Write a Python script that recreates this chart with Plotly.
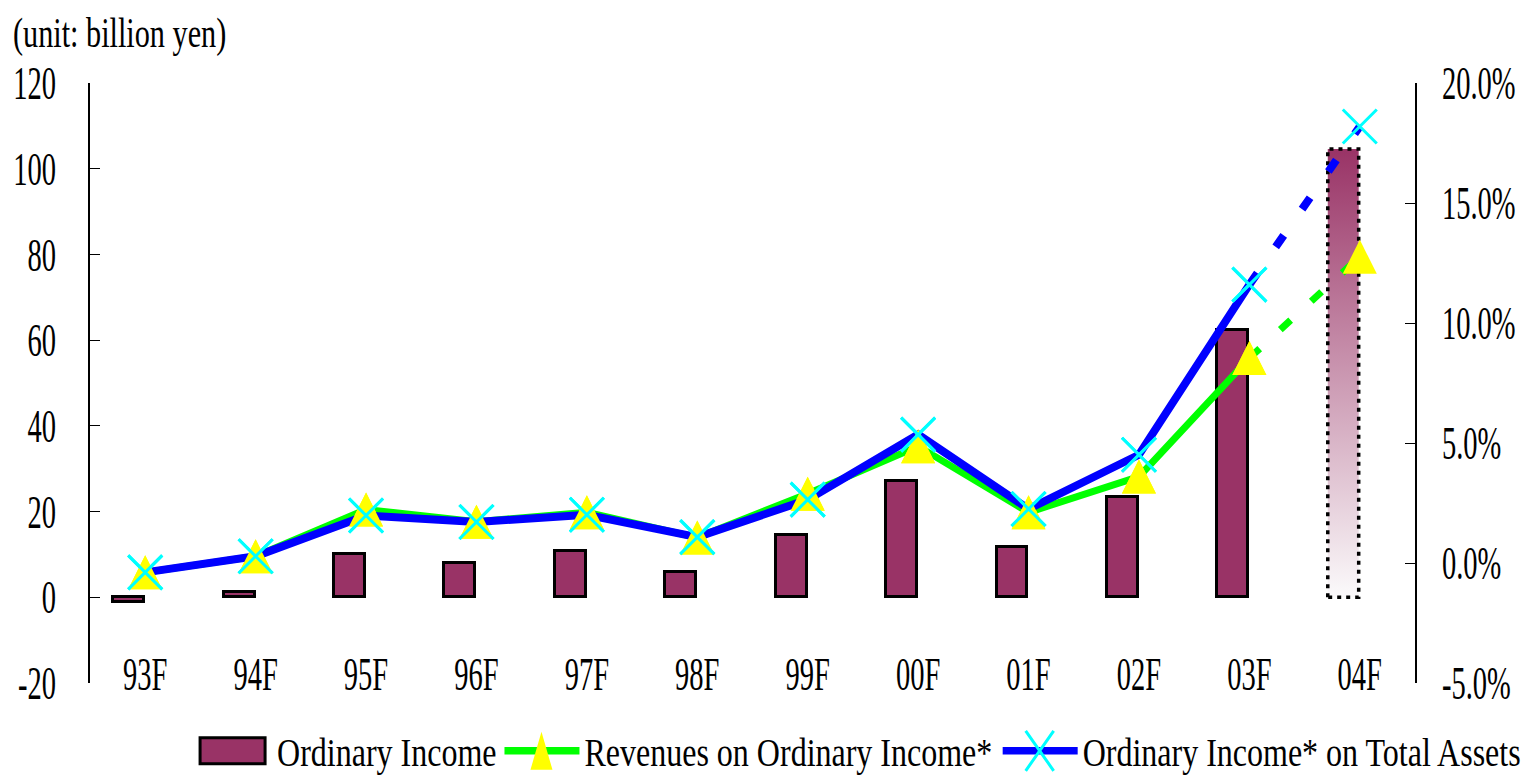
import plotly.graph_objects as go

# Fiscal years; 04F is a forecast
categories = ["93F", "94F", "95F", "96F", "97F", "98F", "99F", "00F", "01F", "02F", "03F", "04F"]
# Ordinary income (billion yen)
ordinary_income = [-1.1, 1.2, 10.1, 7.9, 10.9, 5.8, 14.6, 27.1, 11.7, 23.3, 62.4, 104.6]
# Ordinary income* over revenues (%)
revenue_margin = [-0.39, 0.28, 2.23, 1.72, 2.11, 1.06, 2.89, 4.86, 2.11, 3.60, 8.54, 12.76]
# Ordinary income* over total assets (%)
return_on_assets = [-0.39, 0.28, 1.98, 1.71, 2.01, 1.08, 2.64, 5.35, 2.25, 4.51, 11.60, 18.19]

left_tick_vals = [-20, 0, 20, 40, 60, 80, 100, 120]
left_tick_text = ["-20", "0", "20", "40", "60", "80", "100", "120"]
right_tick_vals = [-5, 0, 5, 10, 15, 20]
right_tick_text = ["-5.0%", "0.0%", "5.0%", "10.0%", "15.0%", "20.0%"]

FONT = "Liberation Serif"
idx = list(range(len(categories)))
last_actual = len(categories) - 2   # 03F
fc = len(categories) - 1            # 04F (forecast)

BAR_OFF, BAR_W = -0.29, 0.28

fig = go.Figure()

# actual ordinary income bars
fig.add_trace(go.Bar(
    x=idx[:fc], y=ordinary_income[:fc], offset=BAR_OFF, width=BAR_W,
    marker=dict(color="#993366", line=dict(color="black", width=3)),
    name="Ordinary Income", legend="legend", hoverinfo="skip",
))

# forecast bar: gradient fill with dotted outline
fv = ordinary_income[fc]
x0, x1 = fc + BAR_OFF, fc + BAR_OFF + BAR_W
fig.add_trace(go.Scatter(
    x=[x0, x0, x1, x1, x0], y=[0, fv, fv, 0, 0], mode="lines",
    fill="toself",
    fillgradient=dict(type="vertical", colorscale=[[0, "#fbfafb"], [1, "#993366"]]),
    line=dict(color="black", width=3.5, dash="4px,5px"),
    showlegend=False, hoverinfo="skip",
))

# upward triangle centred on its point (flipped arrow shifted by half its size)
TRI = dict(symbol="arrow-down", angle=180, size=34, standoff=17,
           color="#ffff00", line=dict(width=0))
CROSS = dict(symbol="x-thin", size=34, color="#00ffff", line=dict(color="#00ffff", width=3))

# revenue margin line (actual + forecast)
fig.add_trace(go.Scatter(
    x=idx[:last_actual + 1], y=revenue_margin[:last_actual + 1], yaxis="y2",
    mode="lines+markers", line=dict(color="#00ff00", width=7, backoff=0), marker=TRI,
    name="Revenues on Ordinary Income*", legend="legend2", hoverinfo="skip",
))
fig.add_trace(go.Scatter(
    x=idx[last_actual:], y=revenue_margin[last_actual:], yaxis="y2", mode="lines",
    line=dict(color="#00ff00", width=7, dash="14px,28px", backoff=0),
    showlegend=False, hoverinfo="skip",
))

# return on assets line (actual + forecast)
fig.add_trace(go.Scatter(
    x=idx[:last_actual + 1], y=return_on_assets[:last_actual + 1], yaxis="y2",
    mode="lines+markers", line=dict(color="#0000ff", width=8, backoff=0), marker=CROSS,
    name="Ordinary Income* on Total Assets", legend="legend3", hoverinfo="skip",
))
fig.add_trace(go.Scatter(
    x=idx[last_actual:], y=return_on_assets[last_actual:], yaxis="y2", mode="lines",
    line=dict(color="#0000ff", width=8, dash="14px,32px", backoff=0),
    showlegend=False, hoverinfo="skip",
))

# markers on top of both lines
fig.add_trace(go.Scatter(x=idx, y=revenue_margin, yaxis="y2", mode="markers",
                         marker=TRI, showlegend=False, hoverinfo="skip"))
fig.add_trace(go.Scatter(x=idx, y=return_on_assets, yaxis="y2", mode="markers",
                         marker=CROSS, showlegend=False, hoverinfo="skip"))

tick_font = dict(family=FONT, size=46, color="black")
legend_common = dict(orientation="h", xanchor="left", y=-0.113, yanchor="middle",
                     font=dict(family=FONT, size=40, color="black"),
                     bgcolor="rgba(0,0,0,0)")

fig.update_layout(
    width=1534, height=778,
    margin=dict(l=90, r=119, t=83, b=95, autoexpand=False),
    paper_bgcolor="white", plot_bgcolor="white",
    font=dict(family=FONT, color="black"),
    bargap=0,
    xaxis=dict(
        range=[-0.5, len(categories) - 0.5], anchor="free", position=0.066,
        tickmode="array", tickvals=idx, ticktext=categories,
        showline=False, ticks="", showgrid=False, zeroline=False,
        tickfont=tick_font, automargin=False,
    ),
    xaxis2=dict(
        overlaying="x", anchor="free", position=20 / 140,
        range=[-0.5, len(categories) - 0.5],
        tickmode="array", tickvals=[i + 0.5 for i in idx[:-1]],
        ticks="inside", ticklen=16, tickwidth=1.3, tickcolor="#7f7f7f",
        showline=True, linecolor="#7f7f7f", linewidth=1.5,
        showticklabels=False, showgrid=False, zeroline=False, automargin=False,
    ),
    yaxis=dict(
        range=[-20, 120], anchor="x",
        tickmode="array", tickvals=left_tick_vals, ticktext=left_tick_text,
        ticks="inside", ticklen=10, tickwidth=1.3, tickcolor="black",
        showline=True, linecolor="black", linewidth=1.5,
        showgrid=False, zeroline=False, tickfont=tick_font,
        ticklabelstandoff=23, automargin=False,
    ),
    yaxis2=dict(
        range=[-5, 20], overlaying="y", side="right", anchor="x",
        tickmode="array", tickvals=right_tick_vals, ticktext=right_tick_text,
        ticks="inside", ticklen=10, tickwidth=1.3, tickcolor="black",
        showline=True, linecolor="black", linewidth=1.5,
        showgrid=False, zeroline=False, tickfont=tick_font,
        ticklabelstandoff=16, automargin=False,
    ),
    legend=dict(x=0.111, **legend_common),
    legend2=dict(x=0.343, **legend_common),
    legend3=dict(x=0.719, entrywidth=450, **legend_common),
    annotations=[dict(
        text="(unit: billion yen)", xref="paper", yref="paper",
        x=-0.0596, y=1.082, xanchor="left", yanchor="middle", align="left",
        showarrow=False, font=dict(family=FONT, size=42, color="black"),
    )],
)

# Condensed Times-style lettering and wider legend keys
finish_js = """
var gd = document.getElementById('{plot_id}');
function squeeze(sel, k) {
  gd.querySelectorAll(sel).forEach(function (t) {
    var cur = t.getAttribute('transform') || '';
    if (cur !== '' && t.getAttribute('data-sq') === cur) return;
    var x = parseFloat(t.getAttribute('x')) || 0;
    var nt = cur + ' translate(' + x + ',0) scale(' + k + ',1) translate(' + (-x) + ',0)';
    t.setAttribute('transform', nt);
    t.setAttribute('data-sq', nt);
  });
}
function legendKeys() {
  gd.querySelectorAll('g.scrollbox').forEach(function (g) {
    g.removeAttribute('clip-path');
  });
  gd.querySelectorAll('g.legendlines path.js-line').forEach(function (p) {
    p.setAttribute('d', 'M-40,0h75');
    p.style.strokeWidth = '7.5px';
  });
  gd.querySelectorAll('g.legendpoints path.scatterpts').forEach(function (p) {
    var d = p.getAttribute('d') || '';
    p.setAttribute('transform', 'translate(-3,0)');
    if (d.indexOf('Z') >= 0) {
      p.setAttribute('d', 'M0,-19L11,19H-11Z');
    } else {
      p.setAttribute('d', 'M14,20L-14,-20M14,-20L-14,20');
      p.style.strokeWidth = '3px';
    }
  });
  gd.querySelectorAll('g.legendpoints > path:not(.scatterpts)').forEach(function (p) {
    p.setAttribute('transform', 'translate(20,0)');
    p.setAttribute('d', 'M-57,13H8V-13H-57Z');
    p.style.strokeWidth = '3px';
  });
}
function finish() {
  squeeze('.xtick text, .ytick text, .y2tick text', 0.62);
  squeeze('text.legendtext, text.legend2text, text.legend3text', 0.8);
  squeeze('text.annotation-text', 0.72);
  legendKeys();
}
finish();
var n = 0;
var timer = setInterval(function () { finish(); if (++n > 30) clearInterval(timer); }, 100);
"""

fig.write_html("out.html", config={"displayModeBar": False}, post_script=finish_js)
